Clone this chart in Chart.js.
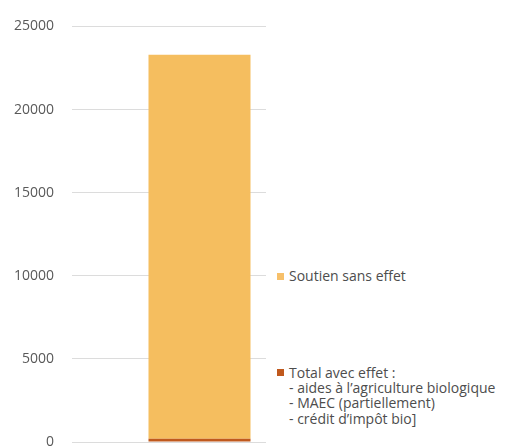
<!DOCTYPE html>
<html>
<head>
<meta charset="utf-8">
<script src="https://cdn.jsdelivr.net/npm/chart.js@4/dist/chart.umd.min.js"></script>
<style>
  html, body { margin: 0; padding: 0; width: 512px; height: 446px; overflow: hidden; background: #ffffff; }
  #wrap { position: absolute; left: 0; top: 0; width: 512px; height: 470px; }
  #legend { position: absolute; left: 266px; top: 0; width: 246px; height: 446px; background: #ffffff;
            font-family: "Open Sans", sans-serif; font-size: 14px; color: #4d4d4d; }
  .row { position: absolute; left: 0; white-space: nowrap; line-height: 15.3px; }
  .sq { position: absolute; left: 11px; width: 7px; height: 7px; }
  .txt { position: absolute; left: 23px; }
</style>
</head>
<body>
<div id="wrap"><canvas id="c"></canvas></div>
<div id="legend"></div>
<script>
// ---- data ----
const categories = [''];
const seriesNames = ['Total avec effet', 'Soutien sans effet'];
const avecEffet = [200];
const sansEffet = [23100];
const yTickValues = [0, 5000, 10000, 15000, 20000, 25000];
const legendSoutien = ['Soutien sans effet'];
const legendTotal = ['Total avec effet :', '- aides à l\u2019agriculture biologique', '- MAEC (partiellement)', '- crédit d\u2019impôt bio]'];

const colDark = '#C0591D';
const colLight = '#F5BE5F';

new Chart(document.getElementById('c'), {
  type: 'bar',
  data: {
    labels: categories,
    datasets: [
      { label: seriesNames[0], data: avecEffet, backgroundColor: colDark, borderWidth: 0 },
      { label: seriesNames[1], data: sansEffet, backgroundColor: colLight, borderWidth: 0 }
    ]
  },
  options: {
    responsive: true,
    maintainAspectRatio: false,
    animation: false,
    events: [],
    layout: { padding: { top: 23, bottom: 28, left: 0, right: 185 } },
    plugins: { legend: { display: false }, tooltip: { enabled: false } },
    datasets: { bar: { categoryPercentage: 1.0, barPercentage: 0.4 } },
    scales: {
      x: { stacked: true, display: false },
      y: {
        stacked: true,
        min: yTickValues[0],
        max: yTickValues[yTickValues.length - 1],
        afterBuildTicks: (s) => { s.ticks = yTickValues.map(v => ({ value: v })); },
        afterFit: (s) => { s.width = 72; },
        border: { display: false },
        grid: { color: '#dcdcdc', lineWidth: 1, drawTicks: false },
        ticks: {
          padding: 18,
          color: '#595959',
          font: { family: 'Open Sans', size: 14 },
          callback: (v) => String(v)
        }
      }
    }
  }
});

// ---- legend (HTML text) ----
const lg = document.getElementById('legend');
function addRow(centerY, text, color) {
  const r = document.createElement('div');
  r.className = 'row';
  r.style.top = (centerY - 7.65) + 'px';
  r.style.height = '15.3px';
  if (color) {
    const s = document.createElement('div');
    s.className = 'sq';
    s.style.background = color;
    s.style.top = '4.5px';
    r.appendChild(s);
  }
  const t = document.createElement('span');
  t.className = 'txt';
  t.textContent = text;
  r.appendChild(t);
  lg.appendChild(r);
}
addRow(276, legendSoutien[0], '#F7C06A');
legendTotal.forEach((txt, i) => addRow(372.5 + i * 15.3, txt, i === 0 ? colDark : null));
</script>
</body>
</html>
